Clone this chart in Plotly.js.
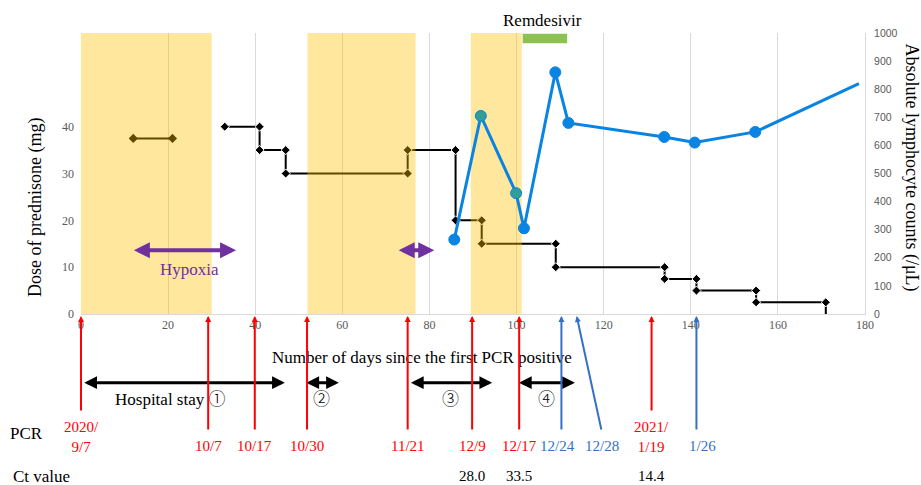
<!DOCTYPE html>
<html><head><meta charset="utf-8">
<script src="https://cdn.plot.ly/plotly-3.0.1.min.js"></script>
<style>html,body{margin:0;padding:0;background:#fff}#chart{width:921px;height:485px}</style>
</head><body><div id="chart"></div>
<script>
// ---- data ----
const hospBandStart = [0, 52, 89.5];
const hospBandEnd = [30, 76.8, 101.2];
const doseEarlyDays = [12, 21];
const doseEarlyValues = [37.5, 37.5];
const doseDays = [33, 41, 47, 75, 86, 92, 109, 134, 141.3, 155, 171];
const doseValues = [40, 35, 30, 35, 20, 15, 10, 7.5, 5, 2.5, 0];
const lymphDays = [85.7, 91.8, 99.9, 101.7, 108.9, 111.9, 133.9, 140.9, 154.8, 178.6];
const lymphCounts = [265, 705, 430, 305, 860, 680, 630, 610, 648, 820];
const remdesivirStart = 101.4, remdesivirEnd = 111.6;
const hypoxiaStart = [11.8, 72.6];
const hypoxiaEnd = [35.6, 81.1];
const stayStart = [0.4, 51.4, 75.4, 100.2];
const stayEnd = [46.8, 59.2, 94.4, 113.4];
const stayNames = ['Hospital stay ', '', '', ''];
const stayNumbers = ['\u2460', '\u2461', '\u2462', '\u2463'];
const pcrDays = [0, 29.2, 39.9, 51.9, 75.0, 89.8, 100.6, 110.3, 113.8, 131.0, 141.3];
const pcrLabels = ['2020/<br>9/7', '10/7', '10/17', '10/30', '11/21', '12/9', '12/17', '12/24', '12/28', '2021/<br>1/19', '1/26'];
const pcrPositive = [true, true, true, true, true, true, true, false, false, true, false];
const ctDays = [89.8, 100.6, 131.0];
const ctValues = ['28.0', '33.5', '14.4'];
const xTicks = [0, 20, 40, 60, 80, 100, 120, 140, 160, 180];
const doseTicks = [0, 10, 20, 30, 40];

// ---- layout helpers (plot area: x 81..865 px, y 33..314 px) ----
const PT = 33, PB = 314, PL = 81, PR = 865;
const py = y => (PB - y) / (PB - PT);
const px = x => (x - PL) / (PR - PL);
const SERIF = 'Liberation Serif, Times New Roman, serif';
const RED = '#FF0000', BLUE = '#3470C6';

// yellow bands polygon
const bandX = [], bandY = [];
hospBandStart.forEach((s, i) => {
  bandX.push(s, s, hospBandEnd[i], hospBandEnd[i], s, null);
  bandY.push(0, 60, 60, 0, 0, null);
});

// step line corners for prednisone
const stepX = [doseDays[0]], stepY = [doseValues[0]];
for (let i = 1; i < doseDays.length; i++) {
  stepX.push(doseDays[i], doseDays[i]);
  stepY.push(doseValues[i - 1], doseValues[i]);
}
const stepSizes = stepX.map((_, i) => i === stepX.length - 1 ? 0 : 7);

const lymphColors = lymphDays.map(d => {
  for (let i = 0; i < hospBandStart.length; i++) if (d >= hospBandStart[i] && d <= hospBandEnd[i]) return '#2E9E96';
  return '#0984E3';
});
const lymphSizes = lymphDays.map((_, i) => i === lymphDays.length - 1 ? 0 : 11);

const traces = [
  {x: doseEarlyDays, y: doseEarlyValues, mode: 'lines+markers', line: {color: '#000', width: 2},
   marker: {symbol: 'diamond', size: 7, color: '#000', opacity: 1}, xaxis: 'x', yaxis: 'y'},
  {x: stepX, y: stepY, mode: 'lines+markers', line: {color: '#000', width: 2},
   marker: {symbol: 'diamond', size: stepSizes, color: '#000', opacity: 1}, xaxis: 'x', yaxis: 'y'},
  {x: bandX, y: bandY, mode: 'lines', fill: 'toself', fillcolor: 'rgba(255,192,0,0.38)',
   line: {width: 0, color: 'rgba(0,0,0,0)'}, xaxis: 'x', yaxis: 'y'},
  {x: lymphDays, y: lymphCounts, mode: 'lines+markers', line: {color: '#0984E3', width: 3},
   marker: {size: lymphSizes, color: lymphColors, opacity: 1}, xaxis: 'x', yaxis: 'y2'}
];

const ann = [];
const txt = (o) => Object.assign({showarrow: false, xanchor: 'center', yanchor: 'middle'}, o);
// axis titles
ann.push(txt({text: 'Number of days since the first PCR positive', xref: 'paper', yref: 'paper',
  x: px(421.7), y: py(357), font: {family: SERIF, size: 17, color: '#000'}}));
ann.push(txt({text: 'Dose of prednisone (mg)', xref: 'paper', yref: 'paper', x: px(35), y: py(208),
  textangle: -90, font: {family: SERIF, size: 18, color: '#000'}}));
ann.push(txt({text: 'Absolute lymphocyte counts (/\u03bcL)', xref: 'paper', yref: 'paper', x: px(911), y: py(167.5),
  textangle: 90, font: {family: SERIF, size: 18, color: '#000'}}));
ann.push(txt({text: 'Remdesivir', xref: 'x', yref: 'paper', x: (remdesivirStart + remdesivirEnd) / 2 - 0.6, y: py(21),
  font: {family: SERIF, size: 17, color: '#000'}}));
// hypoxia
hypoxiaStart.forEach((s, i) => {
  ann.push({x: hypoxiaEnd[i], y: 13.6, xref: 'x', yref: 'y', ax: s, ay: 13.6, axref: 'x', ayref: 'y',
    text: '', showarrow: true, arrowside: 'end+start', arrowhead: 2, startarrowhead: 2,
    arrowsize: 0.8, startarrowsize: 0.8, arrowwidth: 4, arrowcolor: '#7030A0', standoff: 0, startstandoff: 0});
});
ann.push(txt({text: 'Hypoxia', xref: 'x', yref: 'y', x: 24.8, y: 9.4,
  font: {family: SERIF, size: 17, color: '#7030A0'}}));
// hospital stays
stayStart.forEach((s, i) => {
  ann.push({x: stayEnd[i], y: py(382.7), xref: 'x', yref: 'paper', ax: s, ay: 0, axref: 'x', ayref: 'pixel',
    text: '', showarrow: true, arrowside: 'end+start', arrowhead: 2, startarrowhead: 2,
    arrowsize: 0.85, startarrowsize: 0.85, arrowwidth: 3, arrowcolor: '#000', standoff: 0, startstandoff: 0});
  ann.push(txt({text: stayNames[i] + '<span style="font-family:Noto Sans CJK JP;font-weight:300">' + stayNumbers[i] + '</span>',
    xref: 'x', yref: 'paper', x: (s + stayEnd[i]) / 2, xshift: i === 0 ? -13 : 0,
    y: py(397), font: {family: SERIF, size: 17, color: '#000'}}));
});
// PCR arrows and labels
pcrDays.forEach((d, i) => {
  const col = pcrPositive[i] ? RED : BLUE;
  const twoLine = pcrLabels[i].indexOf('<br>') >= 0;
  const slanted = pcrLabels[i] === '12/28';
  ann.push({x: d, y: py(316), xref: 'x', yref: 'paper', ax: slanted ? 25 : 0, ay: (twoLine ? 412 : 431) - 316,
    axref: 'pixel', ayref: 'pixel', text: '', showarrow: true, arrowhead: 2, arrowsize: 0.6,
    arrowwidth: 2, arrowcolor: col, standoff: 0});
  let xs = 0;
  if (slanted) xs = 25;
  if (pcrLabels[i] === '1/26') xs = 6;
  if (pcrLabels[i] === '12/24') xs = -4;
  ann.push(txt({text: pcrLabels[i], xref: 'x', yref: 'paper', x: d, xshift: xs, y: py(twoLine ? 436.5 : 446),
    font: {family: SERIF, size: 15, color: col}}));
});
ann.push(txt({text: 'PCR', xref: 'paper', yref: 'paper', x: px(26.7), y: py(433.3),
  font: {family: SERIF, size: 17, color: '#000'}}));
ann.push(txt({text: 'Ct value', xref: 'paper', yref: 'paper', x: px(41.5), y: py(476),
  font: {family: SERIF, size: 17, color: '#000'}}));
ctDays.forEach((d, i) => {
  ann.push(txt({text: ctValues[i], xref: 'x', yref: 'paper', x: d, y: py(476),
    font: {family: SERIF, size: 15, color: '#000'}}));
});

const layout = {
  width: 921, height: 485,
  margin: {l: PL, r: 921 - PR, t: PT, b: 485 - PB, pad: 0},
  paper_bgcolor: '#fff', plot_bgcolor: '#fff',
  showlegend: false, hovermode: false,
  font: {family: SERIF},
  xaxis: {range: [0, 180], tickvals: xTicks, showgrid: true, gridcolor: '#d9d9d9', gridwidth: 1,
    zeroline: false, showline: true, linecolor: '#d9d9d9', linewidth: 1, ticks: '',
    tickfont: {family: SERIF, size: 12, color: '#595959'}, fixedrange: true},
  yaxis: {range: [0, 60], tickvals: doseTicks, showgrid: false, zeroline: false, showline: false, ticks: '',
    ticklabelstandoff: 6, tickfont: {family: SERIF, size: 12, color: '#595959'}, fixedrange: true},
  yaxis2: {range: [0, 1000], dtick: 100, overlaying: 'y', side: 'right', showgrid: false, zeroline: false,
    showline: true, linecolor: '#d9d9d9', linewidth: 1, ticks: '', ticklabelstandoff: 6,
    tickfont: {family: 'Liberation Sans, Arial, sans-serif', size: 10.5, color: '#595959'}, fixedrange: true},
  shapes: [{type: 'rect', xref: 'x', yref: 'paper', x0: remdesivirStart, x1: remdesivirEnd,
    y0: py(43.3), y1: py(33.7), fillcolor: '#8DC150', line: {width: 0}}],
  annotations: ann
};

Plotly.newPlot('chart', traces, layout, {staticPlot: true, displayModeBar: false});
</script>
</body></html>
